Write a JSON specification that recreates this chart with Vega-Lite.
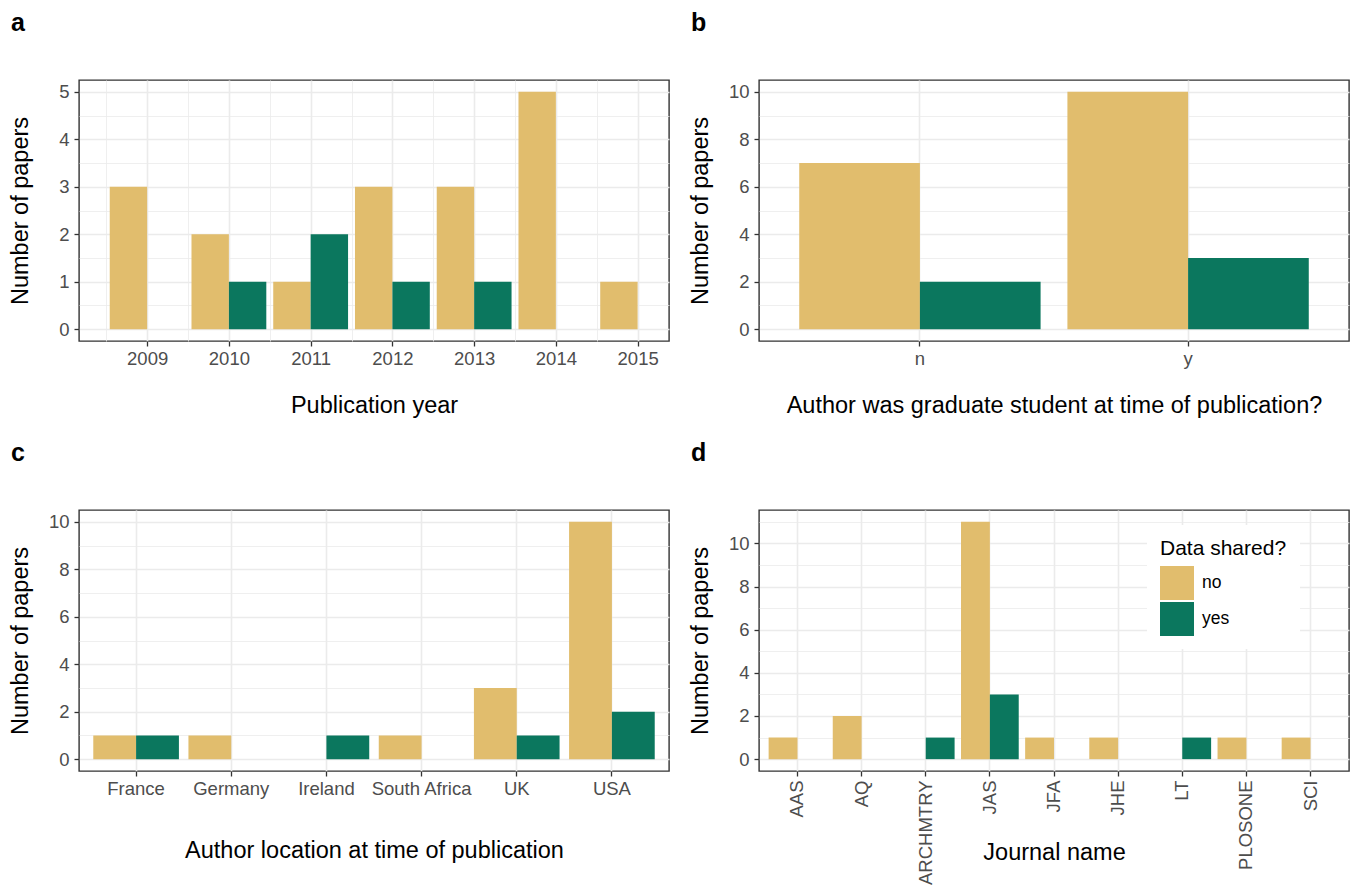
{
  "$schema": "https://vega.github.io/schema/vega-lite/v6.json",
  "padding": {"left": 7, "top": 10, "right": 2, "bottom": 2},
  "background": "white",
  "config": {
    "font": "Liberation Sans",
    "view": {"stroke": "#333333", "strokeWidth": 1.4},
    "axis": {
      "domain": false,
      "grid": true,
      "gridColor": "#EBEBEB",
      "gridWidth": 1.6,
      "tickColor": "#333333",
      "tickWidth": 1.3,
      "tickSize": 5,
      "labelFontSize": 18.5,
      "labelColor": "#4D4D4D",
      "titleFontSize": 23.5,
      "titleFontWeight": "normal",
      "titleColor": "#000000"
    },
    "axisX": {"labelPadding": 3, "labelAngle": 0, "titleBaseline": "middle"},
    "axisY": {"labelPadding": 5, "titleBaseline": "middle", "titleX": -59},
    "title": {
      "fontSize": 25,
      "fontWeight": "bold",
      "color": "#000000",
      "anchor": "start",
      "frame": "group",
      "dx": -68,
      "offset": 44
    }
  },
  "datasets": {
    "years": [
      {"year": 2009, "shared": "no", "n": 3},
      {"year": 2010, "shared": "no", "n": 2},
      {"year": 2010, "shared": "yes", "n": 1},
      {"year": 2011, "shared": "no", "n": 1},
      {"year": 2011, "shared": "yes", "n": 2},
      {"year": 2012, "shared": "no", "n": 3},
      {"year": 2012, "shared": "yes", "n": 1},
      {"year": 2013, "shared": "no", "n": 3},
      {"year": 2013, "shared": "yes", "n": 1},
      {"year": 2014, "shared": "no", "n": 5},
      {"year": 2015, "shared": "no", "n": 1}
    ],
    "grad": [
      {"grad": "n", "shared": "no", "n": 7},
      {"grad": "n", "shared": "yes", "n": 2},
      {"grad": "y", "shared": "no", "n": 10},
      {"grad": "y", "shared": "yes", "n": 3}
    ],
    "location": [
      {"loc": "France", "shared": "no", "n": 1},
      {"loc": "France", "shared": "yes", "n": 1},
      {"loc": "Germany", "shared": "no", "n": 1},
      {"loc": "Ireland", "shared": "yes", "n": 1},
      {"loc": "South Africa", "shared": "no", "n": 1},
      {"loc": "UK", "shared": "no", "n": 3},
      {"loc": "UK", "shared": "yes", "n": 1},
      {"loc": "USA", "shared": "no", "n": 10},
      {"loc": "USA", "shared": "yes", "n": 2}
    ],
    "journal": [
      {"journal": "AAS", "shared": "no", "n": 1},
      {"journal": "AQ", "shared": "no", "n": 2},
      {"journal": "ARCHMTRY", "shared": "yes", "n": 1},
      {"journal": "JAS", "shared": "no", "n": 11},
      {"journal": "JAS", "shared": "yes", "n": 3},
      {"journal": "JFA", "shared": "no", "n": 1},
      {"journal": "JHE", "shared": "no", "n": 1},
      {"journal": "LT", "shared": "yes", "n": 1},
      {"journal": "PLOSONE", "shared": "no", "n": 1},
      {"journal": "SCI", "shared": "no", "n": 1}
    ]
  },
  "columns": 2,
  "spacing": {"row": 169, "column": 90},
  "bounds": "flush",
  "resolve": {"scale": {"color": "independent", "y": "independent", "x": "independent", "xOffset": "independent"}},
  "concat": [
    {
      "title": "a",
      "width": 590,
      "height": 261,
      "data": {"name": "years"},
      "encoding": {
        "x": {
          "field": "year", "type": "quantitative", "title": "Publication year",
          "scale": {"domain": [2008.2275, 2015.3225], "nice": false, "zero": false},
          "axis": {
            "values": [2008.5, 2009, 2009.5, 2010, 2010.5, 2011, 2011.5, 2012, 2012.5, 2013, 2013.5, 2014, 2014.5, 2015],
            "labelExpr": "datum.value % 1 === 0 ? '' + datum.value : ''",
            "gridWidth": {"condition": {"test": "datum.value % 1 === 0", "value": 1.6}, "value": 0.8},
            "tickOpacity": {"condition": {"test": "datum.value % 1 === 0", "value": 1}, "value": 0},
            "titleY": 64
          }
        },
        "y": {
          "field": "n", "type": "quantitative", "title": "Number of papers", "stack": null,
          "scale": {"domain": [-0.25, 5.25], "nice": false, "zero": false},
          "axis": {
            "values": [0, 0.5, 1, 1.5, 2, 2.5, 3, 3.5, 4, 4.5, 5],
            "labelExpr": "datum.value % 1 === 0 ? '' + datum.value : ''",
            "gridWidth": {"condition": {"test": "datum.value % 1 === 0", "value": 1.6}, "value": 0.8},
            "tickOpacity": {"condition": {"test": "datum.value % 1 === 0", "value": 1}, "value": 0}
          }
        },
        "color": {"field": "shared", "type": "nominal", "scale": {"domain": ["no", "yes"], "range": ["#E1BD6D", "#0B775E"]}, "legend": null}
      },
      "layer": [
        {
          "transform": [{"filter": "datum.shared === 'no'"}],
          "mark": {"type": "bar", "width": 37.4, "xOffset": -18.71}
        },
        {
          "transform": [{"filter": "datum.shared === 'yes'"}],
          "mark": {"type": "bar", "width": 37.4, "xOffset": 18.71}
        }
      ]
    },
    {
      "title": "b",
      "width": 590,
      "height": 261,
      "data": {"name": "grad"},
      "mark": "bar",
      "encoding": {
        "x": {
          "field": "grad", "type": "nominal", "title": "Author was graduate student at time of publication?",
          "scale": {"paddingInner": 0.1, "paddingOuter": 0.15},
          "axis": {"bandPosition": 0.5, "grid": true, "titleY": 64}
        },
        "xOffset": {"field": "shared", "type": "nominal", "scale": {"domain": ["no", "yes"], "paddingInner": 0, "paddingOuter": 0}},
        "y": {
          "field": "n", "type": "quantitative", "title": "Number of papers",
          "scale": {"domain": [-0.5, 10.5], "nice": false, "zero": false},
          "axis": {
            "values": [0, 1, 2, 3, 4, 5, 6, 7, 8, 9, 10],
            "labelExpr": "datum.value % 2 === 0 ? '' + datum.value : ''",
            "gridWidth": {"condition": {"test": "datum.value % 2 === 0", "value": 1.6}, "value": 0.8},
            "tickOpacity": {"condition": {"test": "datum.value % 2 === 0", "value": 1}, "value": 0}
          }
        },
        "color": {"field": "shared", "type": "nominal", "scale": {"domain": ["no", "yes"], "range": ["#E1BD6D", "#0B775E"]}, "legend": null}
      }
    },
    {
      "title": "c",
      "width": 590,
      "height": 261,
      "data": {"name": "location"},
      "mark": "bar",
      "encoding": {
        "x": {
          "field": "loc", "type": "nominal", "title": "Author location at time of publication",
          "scale": {"paddingInner": 0.1, "paddingOuter": 0.15},
          "axis": {"bandPosition": 0.5, "grid": true, "titleY": 79}
        },
        "xOffset": {"field": "shared", "type": "nominal", "scale": {"domain": ["no", "yes"], "paddingInner": 0, "paddingOuter": 0}},
        "y": {
          "field": "n", "type": "quantitative", "title": "Number of papers",
          "scale": {"domain": [-0.5, 10.5], "nice": false, "zero": false},
          "axis": {
            "values": [0, 1, 2, 3, 4, 5, 6, 7, 8, 9, 10],
            "labelExpr": "datum.value % 2 === 0 ? '' + datum.value : ''",
            "gridWidth": {"condition": {"test": "datum.value % 2 === 0", "value": 1.6}, "value": 0.8},
            "tickOpacity": {"condition": {"test": "datum.value % 2 === 0", "value": 1}, "value": 0}
          }
        },
        "color": {"field": "shared", "type": "nominal", "scale": {"domain": ["no", "yes"], "range": ["#E1BD6D", "#0B775E"]}, "legend": null}
      }
    },
    {
      "title": "d",
      "width": 590,
      "height": 261,
      "data": {"name": "journal"},
      "mark": "bar",
      "encoding": {
        "x": {
          "field": "journal", "type": "nominal", "title": "Journal name",
          "scale": {"paddingInner": 0.1, "paddingOuter": 0.15},
          "axis": {"bandPosition": 0.5, "grid": true, "labelAngle": -90, "labelPadding": 4, "titleY": 81}
        },
        "xOffset": {"field": "shared", "type": "nominal", "scale": {"domain": ["no", "yes"], "paddingInner": 0, "paddingOuter": 0}},
        "y": {
          "field": "n", "type": "quantitative", "title": "Number of papers",
          "scale": {"domain": [-0.55, 11.55], "nice": false, "zero": false},
          "axis": {
            "values": [0, 1, 2, 3, 4, 5, 6, 7, 8, 9, 10, 11],
            "labelExpr": "datum.value % 2 === 0 ? '' + datum.value : ''",
            "gridWidth": {"condition": {"test": "datum.value % 2 === 0", "value": 1.6}, "value": 0.8},
            "tickOpacity": {"condition": {"test": "datum.value % 2 === 0", "value": 1}, "value": 0}
          }
        },
        "color": {
          "field": "shared", "type": "nominal", "title": "Data shared?",
          "scale": {"domain": ["no", "yes"], "range": ["#E1BD6D", "#0B775E"]},
          "legend": {
            "orient": "none",
            "legendX": 388,
            "legendY": 15,
            "fillColor": "white",
            "padding": 13,
            "symbolType": "square",
            "symbolSize": 1156,
            "symbolStrokeWidth": 0,
            "symbolOpacity": 1,
            "titleFontSize": 21,
            "titleFontWeight": "normal",
            "titleColor": "#000000",
            "titlePadding": 7,
            "labelFontSize": 17.5,
            "labelColor": "#000000",
            "labelOffset": 8,
            "rowPadding": 2
          }
        }
      }
    }
  ]
}
